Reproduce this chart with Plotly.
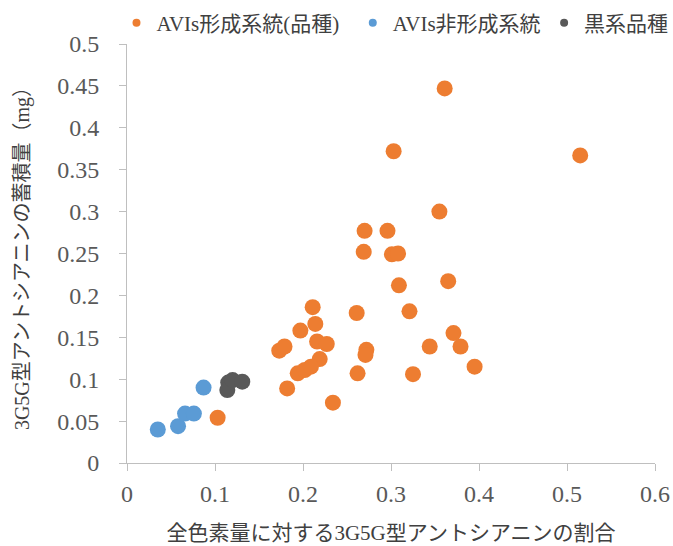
import plotly.graph_objects as go

# AVIs形成系統(品種)
avis_x = [0.103, 0.182, 0.173, 0.179, 0.197, 0.211, 0.214, 0.216, 0.227, 0.219,
          0.194, 0.202, 0.209, 0.234, 0.261, 0.262, 0.272, 0.271, 0.269, 0.270,
          0.296, 0.301, 0.308, 0.309, 0.303, 0.321, 0.325, 0.344, 0.355, 0.361,
          0.365, 0.371, 0.379, 0.395, 0.515]
avis_y = [0.054, 0.089, 0.134, 0.139, 0.158, 0.186, 0.166, 0.145, 0.142, 0.124,
          0.107, 0.111, 0.115, 0.072, 0.179, 0.107, 0.135, 0.129, 0.252, 0.277,
          0.277, 0.249, 0.250, 0.212, 0.372, 0.181, 0.106, 0.139, 0.300, 0.447,
          0.217, 0.155, 0.139, 0.115, 0.367]

# AVIs非形成系統
non_x = [0.035, 0.058, 0.066, 0.076, 0.087]
non_y = [0.040, 0.044, 0.059, 0.059, 0.090]

# 黒系品種
black_x = [0.115, 0.114, 0.120, 0.131]
black_y = [0.096, 0.087, 0.099, 0.097]

series_names = ["AVIs形成系統(品種)", "AVIs非形成系統", "黒系品種"]
colors = ["#ED7D31", "#5B9BD5", "#595959"]
legend_ids = ["legend", "legend2", "legend3"]

x_ticks = [0, 0.1, 0.2, 0.3, 0.4, 0.5, 0.6]
y_ticks = [0, 0.05, 0.1, 0.15, 0.2, 0.25, 0.3, 0.35, 0.4, 0.45, 0.5]

FONT = "Liberation Serif, Noto Sans CJK JP, serif"

fig = go.Figure()
data = [(avis_x, avis_y), (non_x, non_y), (black_x, black_y)]
for (xs, ys), name, c in zip(data, series_names, colors):
    fig.add_trace(go.Scatter(x=xs, y=ys, mode="markers", name=name,
                             marker=dict(size=16, color=c), showlegend=False,
                             legendgroup=name))
for name, c, lid in zip(series_names, colors, legend_ids):
    fig.add_trace(go.Scatter(x=[None], y=[None], mode="markers", name=name,
                             marker=dict(size=8, color=c), legendgroup=name,
                             legend=lid))

axis_common = dict(showgrid=False, zeroline=False, showline=True,
                   linecolor="#BFBFBF", linewidth=1, ticks="outside",
                   ticklen=7, tickcolor="#BFBFBF", automargin=False,
                   tickfont=dict(family=FONT, size=24, color="#595959"))

fig.update_xaxes(range=[0, 0.6], tickvals=x_ticks,
                 ticktext=[f"{v:g}" for v in x_ticks],
                 title=dict(text="全色素量に対する3G5G型アントシアニンの割合",
                            font=dict(family=FONT, size=21, color="#404040"),
                            standoff=19),
                 ticklabelstandoff=2,
                 **axis_common)
fig.update_yaxes(range=[0, 0.5], tickvals=y_ticks,
                 ticktext=[f"{v:g}" for v in y_ticks],
                 title=dict(text="3G5G型アントシアニンの蓄積量（mg）",
                            font=dict(family=FONT, size=20, color="#404040"),
                            standoff=22),
                 ticklabelstandoff=15,
                 **axis_common)

legend_style = dict(orientation="h", y=1.05, yanchor="middle",
                    font=dict(family=FONT, size=21, color="#404040"),
                    bgcolor="rgba(0,0,0,0)")

fig.update_layout(
    width=673, height=546,
    margin=dict(l=127.3, r=18.3, t=43.8, b=83.2, autoexpand=False),
    plot_bgcolor="white", paper_bgcolor="white",
    font=dict(family=FONT, color="#404040"),
    legend=dict(x=-0.0199, xanchor="left", **legend_style),
    legend2=dict(x=0.4276, xanchor="left", **legend_style),
    legend3=dict(x=0.79, xanchor="left", **legend_style),
)

fig.write_html(
    "out.html",
    config={"displayModeBar": False},
    post_script=("document.documentElement.style.margin='0';"
                 "document.body.style.margin='0';"
                 "document.documentElement.style.overflow='hidden';"
                 "document.body.style.overflow='hidden';"),
)
